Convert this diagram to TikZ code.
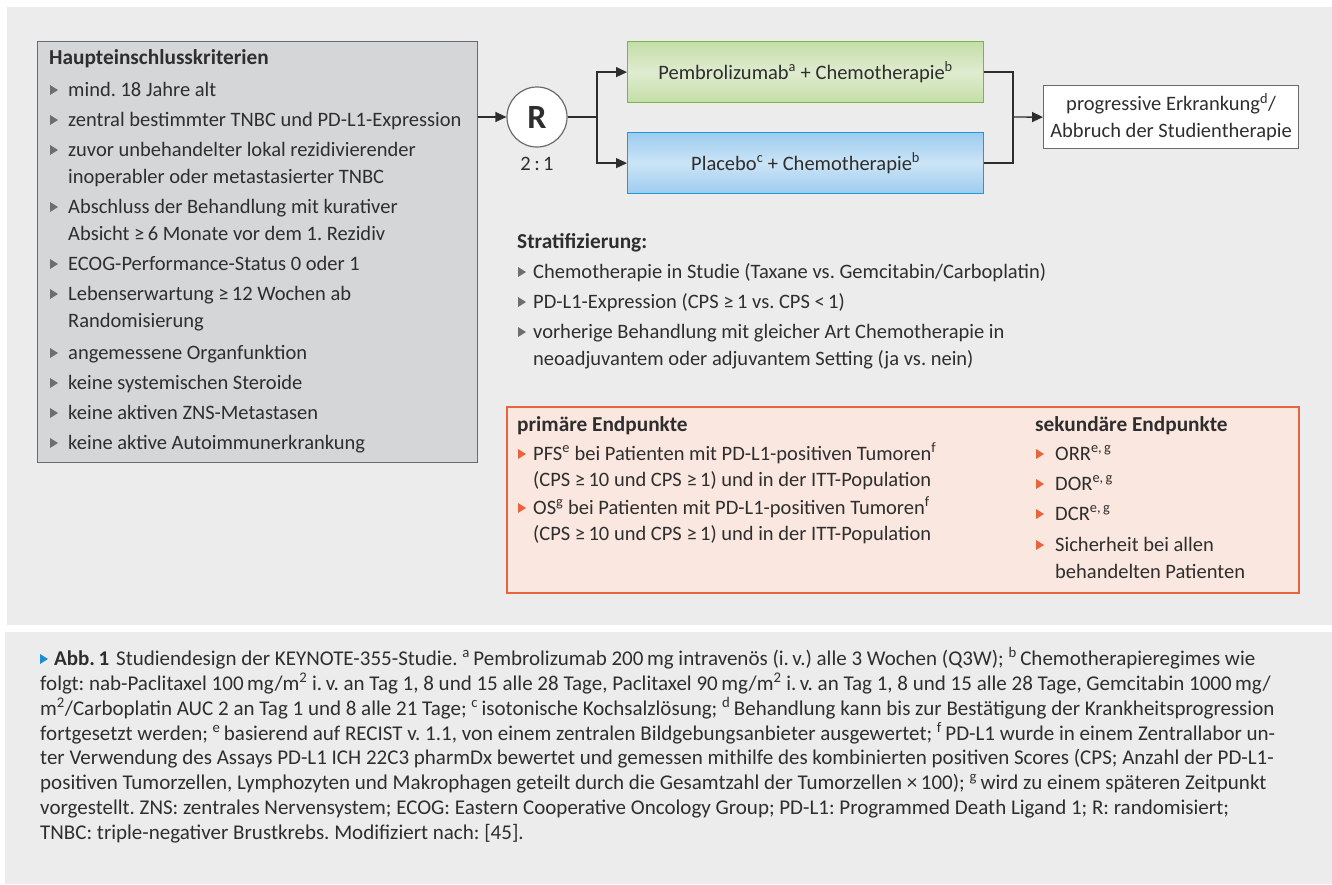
\documentclass[tikz,border=0pt]{standalone}
\usepackage{fontspec}
\setmainfont{Carlito}
\newfontfamily\capfont{Carlito}
\usetikzlibrary{arrows.meta}
\definecolor{panel}{HTML}{EBECEB}
\definecolor{ink}{HTML}{2E2E2E}
\definecolor{critfill}{HTML}{D5D6D8}
\definecolor{critdraw}{HTML}{6A6A6A}
\definecolor{bulgrey}{HTML}{6E6E6E}
\definecolor{grnA}{HTML}{C4DEA8}
\definecolor{grnB}{HTML}{DFECCF}
\definecolor{grnD}{HTML}{7DB446}
\definecolor{bluA}{HTML}{9DCCF0}
\definecolor{bluB}{HTML}{CBE4F6}
\definecolor{bluD}{HTML}{1E9BD7}
\definecolor{endfill}{HTML}{FAE7DF}
\definecolor{orng}{HTML}{E8643C}
\definecolor{capblue}{HTML}{1A8FD6}
\tikzset{
  txt/.style={anchor=base west, inner sep=0pt, text=ink, font=\fontsize{20.5}{24}\selectfont},
  ttl/.style={anchor=base west, inner sep=0pt, text=ink, font=\fontsize{21.3}{24}\selectfont\bfseries},
  ctxt/.style={anchor=base west, inner sep=0pt, text=ink, font=\capfont\fontsize{21}{24}\selectfont},
  ln/.style={line width=1.4pt, draw=ink},
  arr/.style={ln, -{Triangle[length=11pt,width=10pt]}},
}
\newcommand\bul[3]{\fill[#1] (#2,#3-5) -- (#2,#3+5) -- (#2+8,#3) -- cycle;}
\begin{document}
\frenchspacing
\begin{tikzpicture}[x=1pt,y=-1pt]
\useasboundingbox (0,0) rectangle (1332,884);
\fill[white] (0,0) rectangle (1332,884);
\fill[panel] (7,7) rectangle (1332,625);
\fill[panel] (5,632) rectangle (1332,884);

% criteria box
\node[draw=critdraw, fill=critfill, line width=1.2pt, anchor=north west, minimum width=440pt, minimum height=421pt, inner sep=0pt] (crit) at (37,41) {};
\node[ttl] (critT) at (49,64) {Haupteinschlusskriterien};
\bul{bulgrey}{50}{90}  \node[txt] (c1) at (68,96) {mind. 18 Jahre alt};
\bul{bulgrey}{50}{120} \node[txt] (c2) at (68,126) {zentral bestimmter TNBC und PD-L1-Expression};
\bul{bulgrey}{50}{150} \node[txt] (c3a) at (68,156) {zuvor unbehandelter lokal rezidivierender};
                       \node[txt] (c3b) at (68,183) {inoperabler oder metastasierter TNBC};
\bul{bulgrey}{50}{207} \node[txt] (c4a) at (68,213) {Abschluss der Behandlung mit kurativer};
                       \node[txt] (c4b) at (68,240) {Absicht ≥\,6 Monate vor dem 1. Rezidiv};
\bul{bulgrey}{50}{264} \node[txt] (c5) at (68,270) {ECOG-Performance-Status 0 oder 1};
\bul{bulgrey}{50}{294} \node[txt] (c6a) at (68,300) {Lebenserwartung ≥\,12 Wochen ab};
                       \node[txt] (c6b) at (68,327) {Randomisierung};
\bul{bulgrey}{50}{353} \node[txt] (c7) at (68,359) {angemessene Organfunktion};
\bul{bulgrey}{50}{383} \node[txt] (c8) at (68,389) {keine systemischen Steroide};
\bul{bulgrey}{50}{413} \node[txt] (c9) at (68,419) {keine aktiven ZNS-Metastasen};
\bul{bulgrey}{50}{443} \node[txt] (c10) at (68,449) {keine aktive Autoimmunerkrankung};

% randomisation
\node[circle, draw=critdraw, fill=white, line width=1.2pt, minimum size=60pt, inner sep=0pt, text=ink, font=\bfseries\fontsize{34}{34}\selectfont] (R) at (537,117) {R};
\node[anchor=base, inner sep=0pt, text=ink, font=\fontsize{20.5}{24}\selectfont] (ratio) at (537,170) {2\,:\,1};

\node[draw=grnD, line width=1.2pt, top color=grnA, bottom color=grnA, middle color=grnB, anchor=north west, minimum width=356pt, minimum height=61pt, inner sep=0pt, text=ink, font=\fontsize{20.5}{24}\selectfont] (grn) at (627,41) {Pembrolizumab\textsuperscript{a} + Chemotherapie\textsuperscript{b}};
\node[draw=bluD, line width=1.2pt, top color=bluA, bottom color=bluA, middle color=bluB, anchor=north west, minimum width=356pt, minimum height=61pt, inner sep=0pt, text=ink, font=\fontsize{20.5}{24}\selectfont] (blu) at (627,132) {Placebo\textsuperscript{c} + Chemotherapie\textsuperscript{b}};
\node[draw=critdraw, line width=1.2pt, fill=white, anchor=north west, minimum width=255pt, minimum height=63pt, inner sep=0pt, align=center, text=ink, font=\fontsize{20.5}{27}\selectfont] (endp) at (1043,85) {progressive Erkrankung\textsuperscript{d}/\\Abbruch der Studientherapie};

\coordinate (split) at (597,117);
\coordinate (join) at (1013,117);
\draw[arr] (crit.east |- R.west) -- (R.west);
\draw[ln] (R.east) -- (split);
\draw[arr] (split) |- (grn.west);
\draw[arr] (split) |- (blu.west);
\draw[ln] (grn.east) -| (join);
\draw[ln] (blu.east) -| (join);
\draw[arr] (join) -- (endp.west);

% stratification
\node[ttl] (stT) at (517,248) {Stratifizierung:};
\bul{bulgrey}{518}{272} \node[txt] (s1) at (533,278) {Chemotherapie in Studie (Taxane vs. Gemcitabin/Carboplatin)};
\bul{bulgrey}{518}{302} \node[txt] (s2) at (533,308) {PD-L1-Expression (CPS ≥\,1 vs. CPS <\,1)};
\bul{bulgrey}{518}{332} \node[txt] (s3a) at (533,338) {vorherige Behandlung mit gleicher Art Chemotherapie in};
                        \node[txt] (s3b) at (533,365) {neoadjuvantem oder adjuvantem Setting (ja vs. nein)};

% endpoints
\node[draw=orng, fill=endfill, line width=1.8pt, anchor=north west, minimum width=792pt, minimum height=186pt, inner sep=0pt] (ep) at (506,406) {};
\node[ttl] (pT) at (517,431) {primäre Endpunkte};
\bul{orng}{518}{454} \node[txt] (p1a) at (533,460) {PFS\textsuperscript{e} bei Patienten mit PD-L1-positiven Tumoren\textsuperscript{f}};
                     \node[txt] (p1b) at (533,486) {(CPS ≥\,10 und CPS ≥\,1) und in der ITT-Population};
\bul{orng}{518}{508} \node[txt] (p2a) at (533,514) {OS\textsuperscript{g} bei Patienten mit PD-L1-positiven Tumoren\textsuperscript{f}};
                     \node[txt] (p2b) at (533,540) {(CPS ≥\,10 und CPS ≥\,1) und in der ITT-Population};
\node[ttl] (sT) at (1035,431) {sekundäre Endpunkte};
\bul{orng}{1036}{454} \node[txt] (e1) at (1055,460) {ORR\textsuperscript{e,\,g}};
\bul{orng}{1036}{484} \node[txt] (e2) at (1055,490) {DOR\textsuperscript{e,\,g}};
\bul{orng}{1036}{514} \node[txt] (e3) at (1055,520) {DCR\textsuperscript{e,\,g}};
\bul{orng}{1036}{545} \node[txt] (e4a) at (1055,551) {Sicherheit bei allen};
                      \node[txt] (e4b) at (1055,578) {behandelten Patienten};

% caption
\bul{capblue}{40}{659}
\node[ctxt] (cap1) at (54,665) {{\bfseries Abb.\,1}\hspace{7pt}Studiendesign der KEYNOTE-355-Studie. \textsuperscript{a}\,Pembrolizumab 200\,mg intravenös (i.\,v.) alle 3 Wochen (Q3W); \textsuperscript{b}\,Chemotherapieregimes wie};
\node[ctxt] (cap2) at (40,690) {folgt: nab-Paclitaxel 100\,mg/m\textsuperscript{2} i.\,v. an Tag 1, 8 und 15 alle 28 Tage, Paclitaxel 90\,mg/m\textsuperscript{2} i.\,v. an Tag 1, 8 und 15 alle 28 Tage, Gemcitabin 1000\,mg/};
\node[ctxt] (cap3) at (40,715) {m\textsuperscript{2}/Carboplatin AUC 2 an Tag 1 und 8 alle 21 Tage; \textsuperscript{c}\,isotonische Kochsalzlösung; \textsuperscript{d}\,Behandlung kann bis zur Bestätigung der Krankheitsprogression};
\node[ctxt] (cap4) at (40,740) {fortgesetzt werden; \textsuperscript{e}\,basierend auf RECIST v. 1.1, von einem zentralen Bildgebungsanbieter ausgewertet; \textsuperscript{f}\,PD-L1 wurde in einem Zentrallabor un-};
\node[ctxt] (cap5) at (40,764) {ter Verwendung des Assays PD-L1 ICH 22C3 pharmDx bewertet und gemessen mithilfe des kombinierten positiven Scores (CPS; Anzahl der PD-L1-};
\node[ctxt] (cap6) at (40,789) {positiven Tumorzellen, Lymphozyten und Makrophagen geteilt durch die Gesamtzahl der Tumorzellen ×\,100); \textsuperscript{g}\,wird zu einem späteren Zeitpunkt};
\node[ctxt] (cap7) at (40,814) {vorgestellt. ZNS: zentrales Nervensystem; ECOG: Eastern Cooperative Oncology Group; PD-L1: Programmed Death Ligand 1; R: randomisiert;};
\node[ctxt] (cap8) at (40,839) {TNBC: triple-negativer Brustkrebs. Modifiziert nach: [45].};
\end{tikzpicture}
\end{document}
